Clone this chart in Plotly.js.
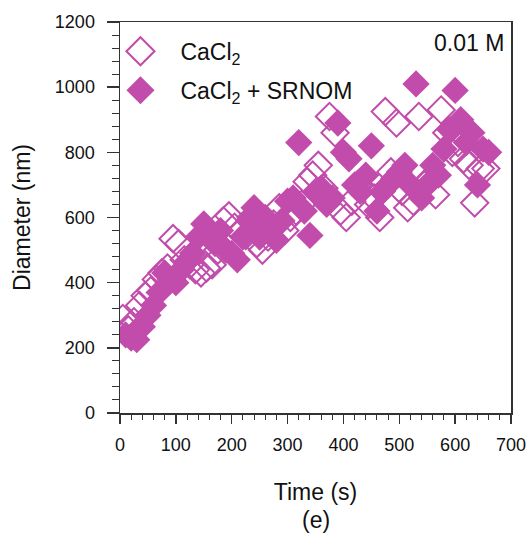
<!DOCTYPE html>
<html>
<head>
<meta charset="utf-8">
<script src="https://cdn.plot.ly/plotly-3.0.1.min.js"></script>
<style>html,body{margin:0;padding:0;background:#fff;}#chart{width:529px;height:533px;}</style>
</head>
<body>
<div id="chart"></div>
<script>
// CaCl2 (open diamonds)
const timeCaCl2 = [5,15,25,35,45,55,65,75,85,95,105,115,125,135,145,155,165,175,185,195,205,215,225,235,245,255,265,275,285,295,305,315,325,335,345,355,365,375,385,395,405,415,425,435,445,455,465,475,485,495,505,515,525,535,545,555,565,575,585,595,605,615,625,635,645,655];
const diamCaCl2 = [290,255,280,330,360,375,410,430,445,535,520,470,455,440,430,445,455,500,590,605,570,555,545,600,520,500,540,580,630,560,600,620,640,710,730,760,690,910,860,620,600,650,700,690,640,660,600,925,740,890,680,630,650,910,700,720,670,930,860,800,830,780,760,645,750,750];
// CaCl2 + SRNOM (filled diamonds)
const timeSRNOM = [10,20,30,40,50,60,70,80,90,100,110,120,130,140,150,160,170,180,190,200,210,220,230,240,250,260,270,280,290,300,310,320,330,340,350,360,370,380,390,400,410,420,430,440,450,460,470,480,490,500,510,520,530,540,550,560,570,580,590,600,610,620,630,640,650,660];
const diamSRNOM = [240,230,225,265,300,330,370,430,410,400,440,465,490,540,580,540,520,560,500,490,470,540,590,630,540,600,560,530,590,650,660,830,620,545,680,690,640,660,890,800,780,700,680,730,820,620,680,700,720,740,760,700,1010,660,700,760,730,810,870,990,900,830,860,700,810,800];

const labels = ["CaCl<sub>2</sub>", "CaCl<sub>2</sub> + SRNOM"];
const col = "#C24CAB";
const FONT = "Liberation Sans, Arial, sans-serif";

const traces = [
  {x: timeCaCl2, y: diamCaCl2, name: labels[0], legendgroup: "a", type: "scatter", mode: "markers",
   marker: {symbol: "diamond-open", size: 21, color: col, line: {width: 2, color: col}}},
  {x: timeSRNOM, y: diamSRNOM, name: labels[1], legendgroup: "b", type: "scatter", mode: "markers",
   marker: {symbol: "diamond", size: 21, color: col, line: {width: 0}}}
];

const axisCommon = {
  showgrid: false, zeroline: false, showline: true, mirror: true,
  linecolor: "#333", linewidth: 1.5, ticks: "outside", tickcolor: "#333",
  tickwidth: 1.5,
  tickfont: {family: FONT, size: 18, color: "#111"}
};

const layout = {
  width: 529, height: 533,
  margin: {l: 120, r: 18, t: 22, b: 120},
  paper_bgcolor: "#fff", plot_bgcolor: "#fff",
  showlegend: true,
  legend: {x: -0.05, y: 0.98, xanchor: "left", yanchor: "top", bgcolor: "rgba(0,0,0,0)",
           font: {family: FONT, size: 23, color: "#111"},
           tracegroupgap: 6, itemwidth: 70},
  xaxis: Object.assign({}, axisCommon, {
    range: [0, 700], tick0: 0, dtick: 100, ticklen: 9, ticklabelstandoff: 6,
    minor: {dtick: 20, ticks: "outside", ticklen: 5, tickcolor: "#333", tickwidth: 1},
    title: {text: "Time (s)", font: {family: FONT, size: 23, color: "#111"}, standoff: 30}
  }),
  yaxis: Object.assign({}, axisCommon, {
    range: [0, 1200], tick0: 0, dtick: 200, ticklen: 12, ticklabelstandoff: 8,
    minor: {dtick: 40, ticks: "outside", ticklen: 7, tickcolor: "#333", tickwidth: 1},
    title: {text: "Diameter (nm)", font: {family: FONT, size: 23, color: "#111"}, standoff: 18}
  }),
  annotations: [
    {text: "0.01 M", xref: "paper", yref: "paper", x: 0.987, y: 0.946, xanchor: "right", yanchor: "middle",
     showarrow: false, font: {family: FONT, size: 23, color: "#111"}},
    {text: "(e)", xref: "paper", yref: "paper", x: 0.5, y: -0.274, xanchor: "center", yanchor: "middle",
     showarrow: false, font: {family: FONT, size: 23, color: "#111"}}
  ]
};

Plotly.newPlot("chart", traces, layout, {displayModeBar: false, staticPlot: true}).then(function () {
  document.querySelectorAll(".legend .scatterpts").forEach(function (p) {
    p.setAttribute("transform", (p.getAttribute("transform") || "") + " scale(1.35)");
    p.style.vectorEffect = "non-scaling-stroke";
  });
});
</script>
</body>
</html>
